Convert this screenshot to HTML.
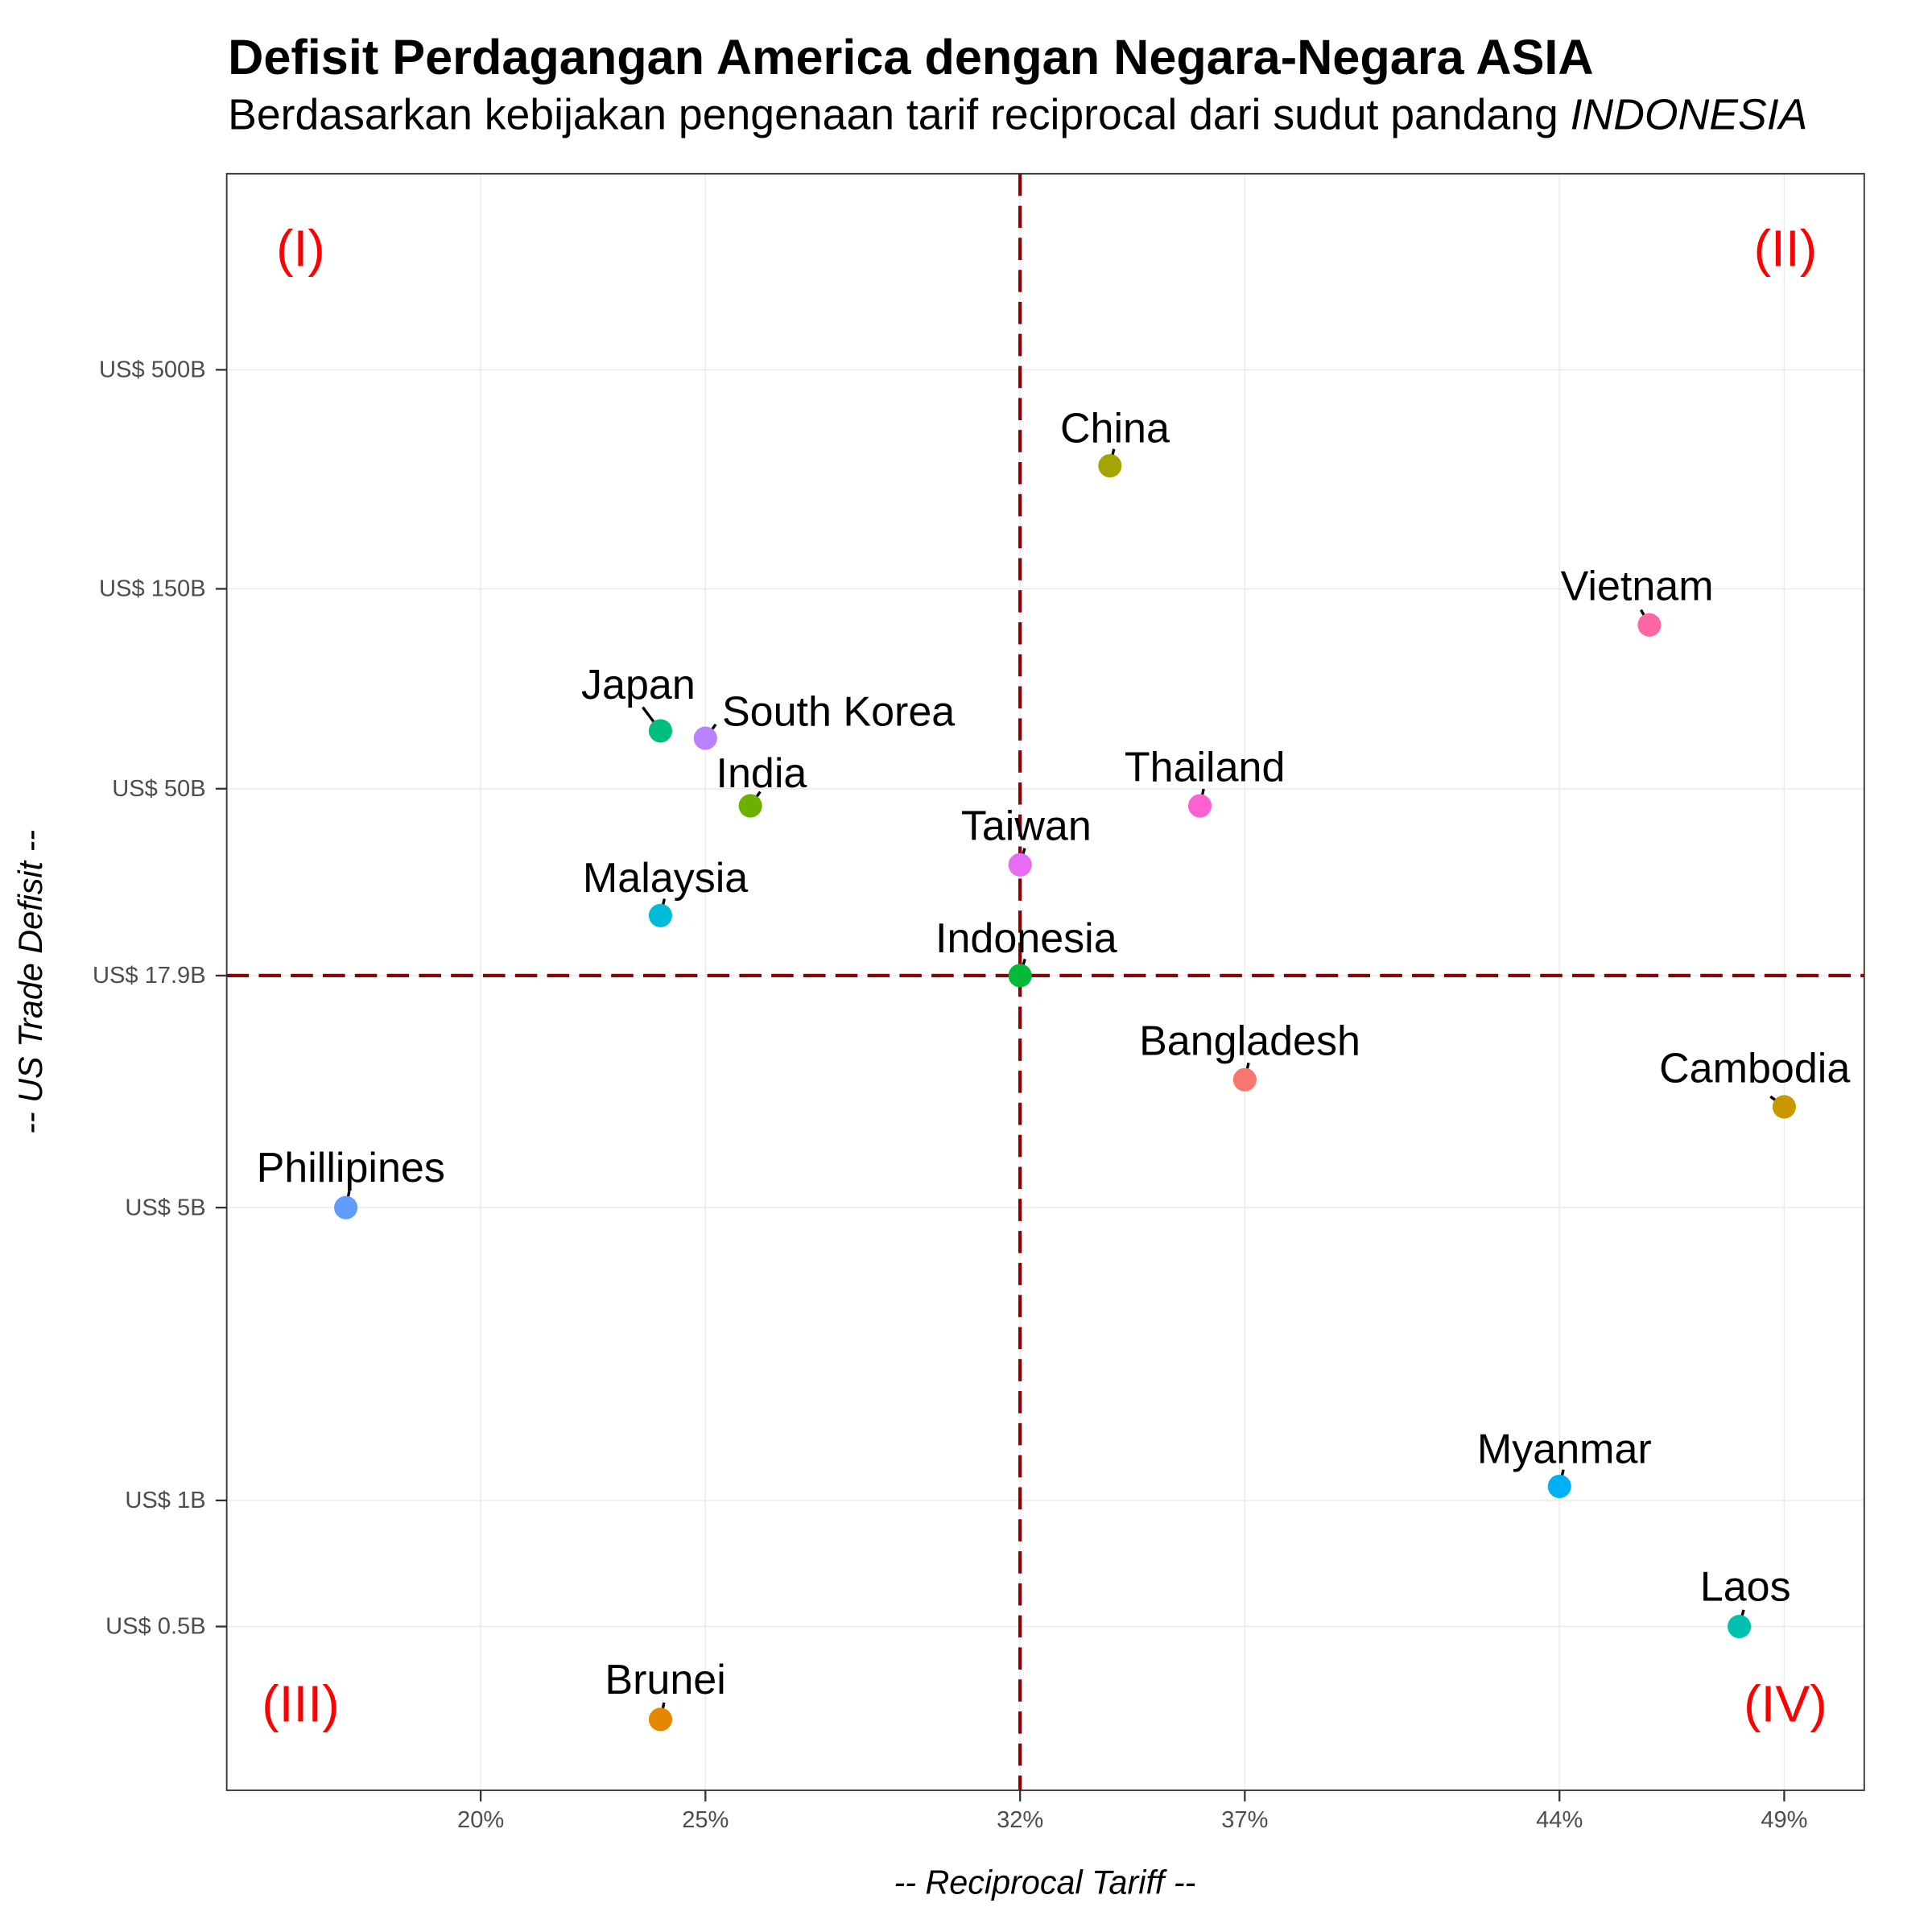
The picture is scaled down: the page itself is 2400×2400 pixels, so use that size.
<!DOCTYPE html>
<html><head><meta charset="utf-8"><style>
html,body{margin:0;padding:0;background:#fff}
svg{display:block;font-family:"Liberation Sans",Arial,sans-serif}
</style></head><body>
<svg id="chart" width="2400" height="2400" viewBox="0 0 1568 1568" xmlns="http://www.w3.org/2000/svg">
<text x="185" y="60" font-size="40" font-weight="bold">Defisit Perdagangan America dengan Negara-Negara ASIA</text>
<text x="185" y="105" font-size="35">Berdasarkan kebijakan pengenaan tarif reciprocal dari sudut pandang <tspan font-style="italic">INDONESIA</tspan></text>
<rect x="184" y="141" width="1329" height="1312" fill="#fff"/>
<g id="grid"></g>
<g id="refs"></g>
<g id="marks"></g>
<rect x="184" y="141" width="1329" height="1312" fill="none" stroke="#333" stroke-width="1.2"/>
<g id="axes"></g>
<text x="244" y="216" font-size="42" fill="red" text-anchor="middle">(I)</text>
<text x="1449" y="216" font-size="42" fill="red" text-anchor="middle">(II)</text>
<text x="244" y="1397" font-size="42" fill="red" text-anchor="middle">(III)</text>
<text x="1449" y="1397" font-size="42" fill="red" text-anchor="middle">(IV)</text>
<text x="848" y="1537" font-size="27" font-style="italic" text-anchor="middle">-- Reciprocal Tariff --</text>
<text transform="translate(34,797) rotate(-90)" font-size="27" font-style="italic" text-anchor="middle">-- US Trade Defisit --</text>
</svg>
<script>
const countries=["Bangladesh","Brunei","Cambodia","China","India","Indonesia","Japan","Laos","Malaysia","Myanmar","Phillipines","South Korea","Taiwan","Thailand","Vietnam"];
const tariffs=[37,24,49,34,26,32,24,48,24,44,17,25,32,36,46];
const deficits=[10.1,0.30,8.7,295,45.5,17.9,68.7,0.5,24.9,1.08,5,66,32.9,45.5,123];
const xTicks=[20,25,32,37,44,49];
const xTickLabels=["20%","25%","32%","37%","44%","49%"];
const yTicks=[500,150,50,17.9,5,1,0.5];
const yTickLabels=["US$ 500B","US$ 150B","US$ 50B","US$ 17.9B","US$ 5B","US$ 1B","US$ 0.5B"];
const refTariff=32, refDeficit=17.9;
const colors=["#F8766D","#E58700","#C99800","#A3A500","#6BB100","#00BA38","#00BF7D","#00C0AF","#00BCD8","#00B0F6","#619CFF","#B983FF","#E76BF3","#FD61D1","#FF67A4"];
// label offsets (styling, px relative to point, visual centre of label)
const labelOff={Bangladesh:[4,-32],Brunei:[4,-33],Cambodia:[-24,-32],China:[4,-31],India:[9,-27],Indonesia:[5,-31],Japan:[-18,-38],Laos:[5,-33],Malaysia:[4,-31],Myanmar:[4,-31],Phillipines:[4,-33],"South Korea":[108,-22],Taiwan:[5,-32],Thailand:[4,-32],Vietnam:[-10,-32]};
const X0=184,X1=1513,Y0=141,Y1=1453;
const xMin=14.35,xMax=50.78,lMin=-0.692,lMax=3.167;
const xs=v=>X0+(v-xMin)/(xMax-xMin)*(X1-X0);
const ys=v=>Y1-(Math.log10(v)-lMin)/(lMax-lMin)*(Y1-Y0);
const NS="http://www.w3.org/2000/svg";
function mk(tag,attrs,parent){const e=document.createElementNS(NS,tag);for(const k in attrs)e.setAttribute(k,attrs[k]);document.getElementById(parent).appendChild(e);return e;}
xTicks.forEach((t,i)=>{
  const x=xs(t);
  const g=mk("line",{x1:x,x2:x,y1:Y0,y2:Y1,stroke:"#ebebeb","stroke-width":1},"grid");
  
  
  const tk=mk("line",{x1:x,x2:x,y1:Y1,y2:Y1+9,stroke:"#333","stroke-width":1.5},"axes");
  
  
  const lb=mk("text",{x:x,y:Y1+30,"font-size":19,fill:"#4d4d4d","text-anchor":"middle"},"axes");
  lb.textContent=xTickLabels[i];
  
  
});
yTicks.forEach((t,i)=>{
  const y=ys(t);
  const g=mk("line",{x1:X0,x2:X1,y1:y,y2:y,stroke:"#ebebeb","stroke-width":1},"grid");
  
  
  const tk=mk("line",{x1:X0-9,x2:X0,y1:y,y2:y,stroke:"#333","stroke-width":1.5},"axes");
  
  
  const lb=mk("text",{x:X0-17,y:y+6,"font-size":19,fill:"#4d4d4d","text-anchor":"end"},"axes");
  lb.textContent=yTickLabels[i];
  
  
});
const vr=mk("line",{x1:xs(refTariff),x2:xs(refTariff),y1:Y0,y2:Y1,stroke:"#8B0000","stroke-width":2.8,"stroke-dasharray":"18 8"},"refs");


const hr=mk("line",{x1:X0,x2:X1,y1:ys(refDeficit),y2:ys(refDeficit),stroke:"#8B0000","stroke-width":2.8,"stroke-dasharray":"18 8"},"refs");


countries.forEach((c,i)=>{
  const px=xs(tariffs[i]),py=ys(deficits[i]);
  const o=labelOff[c];
  const lx=px+o[0],ly=py+o[1];
  let tx=(c==="South Korea")?6:o[0], ty=o[1]+14;
  const L=Math.hypot(tx,ty)||1;
  const ux=tx/L,uy=ty/L;
  const len=(c==="Japan")?24:14;
  const ln=mk("line",{x1:px+ux*3,y1:py+uy*3,x2:px+ux*len,y2:py+uy*len,stroke:"#000","stroke-width":2.2},"marks");
  
  
  const pt=mk("circle",{cx:px,cy:py,r:9.5,fill:colors[i]},"marks");
  
  
  const tl=mk("text",{x:lx,y:ly+12,"font-size":34,"text-anchor":"middle"},"marks");
  tl.textContent=c;
  
  
});
</script>
</body></html>
